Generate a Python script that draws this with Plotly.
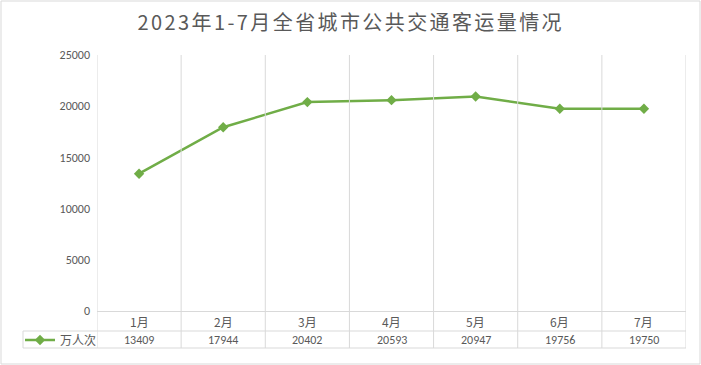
import plotly.graph_objects as go

months = ["1月", "2月", "3月", "4月", "5月", "6月", "7月"]
passengers = [13409, 17944, 20402, 20593, 20947, 19756, 19750]
series_name = "万人次"
title_text = "2023年1-7月全省城市公共交通客运量情况"
y_ticks = [0, 5000, 10000, 15000, 20000, 25000]

W, H = 701, 365
GREEN = "#70AD47"
GRID = "#D9D9D9"
TXT = "#595959"
FONT = "Carlito, 'Noto Sans CJK SC', sans-serif"
CJK = "'Noto Sans CJK SC', sans-serif"


def px_x(x):
    return x / W


def px_y(y):
    return 1 - y / H


x_idx = list(range(len(months)))

fig = go.Figure()
fig.add_trace(go.Scatter(
    x=x_idx, y=passengers, mode="lines+markers", name=series_name,
    line=dict(color=GREEN, width=2.5),
    marker=dict(symbol="diamond", size=8, color=GREEN),
))

shapes = []
for i in range(len(months) + 1):
    shapes.append(dict(type="line", xref="x", yref="paper",
                       x0=i - 0.5, x1=i - 0.5, y0=px_y(348), y1=px_y(55),
                       line=dict(color=GRID, width=1)))
shapes.append(dict(type="line", xref="paper", yref="paper",
                   x0=px_x(23), x1=px_x(23), y0=px_y(348), y1=px_y(331),
                   line=dict(color=GRID, width=1)))
for yy in (331, 348):
    shapes.append(dict(type="line", xref="paper", yref="paper",
                       x0=px_x(23), x1=px_x(686), y0=px_y(yy), y1=px_y(yy),
                       line=dict(color=GRID, width=1)))
shapes.append(dict(type="rect", xref="paper", yref="paper",
                   x0=px_x(1), x1=px_x(700), y0=px_y(364), y1=px_y(1),
                   line=dict(color=GRID, width=1)))

annotations = [dict(text=title_text, x=0.5, y=px_y(22), xref="paper", yref="paper",
                    showarrow=False, xanchor="center", yanchor="middle",
                    font=dict(size=20, color=TXT, family=CJK))]
for i, (m, v) in enumerate(zip(months, passengers)):
    annotations.append(dict(text=m, x=i, y=px_y(321), xref="x", yref="paper",
                            xanchor="center", yanchor="middle",
                            showarrow=False, font=dict(size=12, color=TXT, family=CJK)))
    annotations.append(dict(text=str(v), x=i, y=px_y(340), xref="x", yref="paper",
                            xanchor="center", yanchor="middle",
                            showarrow=False, font=dict(size=12, color=TXT, family=FONT)))

fig.update_layout(
    width=W, height=H,
    margin=dict(l=0, r=0, t=0, b=0),
    paper_bgcolor="white", plot_bgcolor="white",
    font=dict(family=FONT, color=TXT, size=11),
    showlegend=True,
    legend=dict(x=px_x(20), y=px_y(340), xanchor="left", yanchor="middle",
                bgcolor="rgba(0,0,0,0)", font=dict(size=12, color=TXT, family=CJK),
                itemwidth=30),
    xaxis=dict(domain=[px_x(97), px_x(686)], range=[-0.5, len(months) - 0.5],
               showgrid=False, zeroline=False, showticklabels=False, ticks="",
               showline=True, linecolor=GRID, linewidth=1, automargin=False, fixedrange=True),
    yaxis=dict(domain=[px_y(311), px_y(55)], range=[0, 25000], tickvals=y_ticks,
               ticktext=[str(t) for t in y_ticks],
               showgrid=False, zeroline=False, showline=False, ticks="",
               tickfont=dict(size=12, color=TXT, family=FONT), ticklabelstandoff=6,
               automargin=False, fixedrange=True),
    shapes=shapes,
    annotations=annotations,
)

post = """
document.body.style.margin='0';
document.body.style.padding='0';
document.querySelectorAll('.annotation-text').forEach(function(t){
  if (t.textContent.indexOf('2023') === 0) { t.style.letterSpacing = '2.4px'; }
});
"""
fig.write_html("out.html", post_script=post, config={"displayModeBar": False})
